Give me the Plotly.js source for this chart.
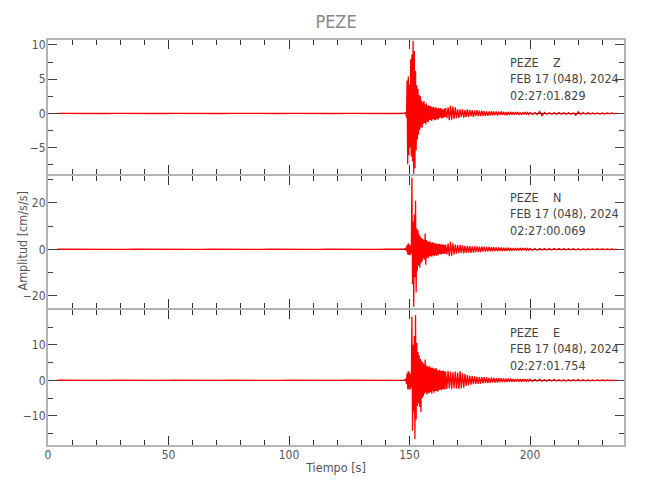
<!DOCTYPE html>
<html>
<head>
<meta charset="utf-8">
<script src="https://cdn.plot.ly/plotly-3.0.1.min.js"></script>
<style>html,body{margin:0;padding:0;background:#fff;}#chart{width:650px;height:500px;}</style>
</head>
<body>
<div id="chart"></div>
<script>
// ---- DATA ----
const stationName = 'PEZE';
const components = ['Z', 'N', 'E'];
const dateLabel = 'FEB 17 (048), 2024';
const startTimes = ['02:27:01.829', '02:27:00.069', '02:27:01.754'];
const xTitle = 'Tiempo [s]';
const yTitle = 'Amplitud [cm/s/s]';
const xTickVals = [0, 50, 100, 150, 200];

// sampling of each segment: [start time (s), step (s)]
const preSeg = [4, 4];
const aSeg = [148.5, 0.25];
const bSeg = [165, 0.5];
const cSeg = [200, 1];

// Z component
const zPre = [0.01,-0.01,0.01,-0.01,0.01,-0.01,0.01,-0.01,0.01,-0.01,0.01,-0.01,0.01,-0.01,0.01,-0.01,0.01,-0.01,0.01,-0.01,0.01,-0.01,0.01,-0.01,0.01,-0.01,0.01,-0.01,0.01,-0.01,0.01,-0.01,0.01,-0.01,0.01,-0.01,0.02];
const zA = [0.2,-0.6,4.8,-7.4,5.4,-6.1,4.2,-5.0,7.9,-6.3,
  8.6,-7.0,10.6,-8.8,9.1,-8.0,6.2,-5.4,4.1,-3.8,
  3.6,-3.1,2.7,-2.4,2.5,-2.0,1.9,-2.1,1.6,-1.5,
  1.8,-1.4,1.3,-1.6,1.5,-1.2,1.1,-1.3,1.2,-1.0,
  1.1,-0.9,1.0,-1.1,0.9,-0.8,1.0,-0.9,0.8,-1.0,
  0.9,-0.8,0.7,-0.9,0.8,-0.7,0.7,-0.6,0.8,-0.7,
  0.6,-0.7,0.6,-0.6,0.7,-0.5];
const zB = [0.8,-0.7,0.9,-1.0,1.1,-0.9,1.0,-0.8,0.9,-0.7,
  0.6,-0.7,0.6,-0.5,0.6,-0.6,0.5,-0.5,0.6,-0.5,
  0.5,-0.4,0.5,-0.5,0.4,-0.4,0.5,-0.4,0.4,-0.4,
  0.4,-0.35,0.35,-0.4,0.3,-0.35,0.3,-0.3,0.35,-0.3,
  0.3,-0.25,0.3,-0.3,0.25,-0.25,0.3,-0.2,0.25,-0.25,
  0.2,-0.25,0.2,-0.2,0.25,-0.2,0.2,-0.2,0.2,-0.15,
  0.2,-0.2,0.15,-0.2,0.15,-0.15,0.2,-0.15,0.15,-0.15];
const zC = [0.15,-0.15,0.12,-0.15,0.3,-0.35,0.15,-0.12,0.1,-0.12,
  0.1,-0.1,0.12,-0.1,0.1,-0.1,0.1,-0.12,0.1,-0.25,
  0.25,-0.1,0.1,-0.08,0.1,-0.08,0.08,-0.1,0.08,-0.08,
  0.08,-0.07,0.08,-0.06,0.07,-0.06,0.05];

// N component
const nPre = [0.02,-0.03,0.03,-0.02,0.03,-0.03,0.02,-0.03,0.03,-0.02,0.03,-0.03,0.02,-0.03,0.03,-0.02,0.03,-0.03,0.02,-0.03,0.03,-0.02,0.03,-0.03,0.02,-0.03,0.03,-0.02,0.03,-0.03,0.02,-0.03,0.03,-0.02,0.03,-0.03,0.05];
const nA = [0.5,-0.8,1.8,-2.2,2.6,-2.4,2.0,-2.6,1.5,-1.8,
  31.0,-15.0,12.0,-24.8,15.0,-12.0,20.9,-18.6,9.0,-9.5,
  8.2,-7.0,6.5,-8.0,5.5,-6.0,4.8,-5.2,4.5,-4.0,
  4.0,-4.5,6.8,-6.7,4.0,-3.6,3.5,-3.8,3.2,-3.0,
  3.5,-3.0,2.8,-3.2,3.0,-2.6,2.8,-3.0,2.5,-2.4,
  2.6,-2.8,2.2,-2.5,2.4,-2.0,2.3,-2.2,2.0,-2.1,
  2.2,-1.9,2.0,-2.0,1.8,-1.9];
const nB = [2.0,-2.2,2.5,-3.0,3.2,-2.8,2.6,-2.2,2.0,-1.9,
  1.8,-1.7,1.9,-1.6,1.7,-1.8,1.5,-1.6,1.5,-1.4,
  1.4,-1.5,1.3,-1.4,1.3,-1.2,1.3,-1.2,1.1,-1.2,
  1.1,-1.0,1.1,-1.0,1.0,-0.9,1.0,-0.9,0.9,-0.9,
  0.9,-0.8,0.8,-0.9,0.8,-0.7,0.8,-0.7,0.7,-0.7,
  0.7,-0.6,0.7,-0.6,0.6,-0.6,0.6,-0.5,0.6,-0.5,
  0.5,-0.5,0.5,-0.5,0.5,-0.4,0.5,-0.4,0.4,-0.4];
const nC = [0.4,-0.4,0.35,-0.4,0.35,-0.3,0.35,-0.3,0.3,-0.3,
  0.3,-0.25,0.3,-0.25,0.25,-0.25,0.25,-0.2,0.25,-0.2,
  0.2,-0.2,0.2,-0.18,0.2,-0.15,0.18,-0.15,0.15,-0.15,
  0.15,-0.12,0.15,-0.12,0.12,-0.1,0.1];

// E component
const ePre = [0.02,-0.02,0.03,-0.02,0.02,-0.03,0.02,-0.02,0.03,-0.02,0.02,-0.03,0.02,-0.02,0.03,-0.02,0.02,-0.03,0.02,-0.02,0.03,-0.02,0.02,-0.03,0.02,-0.02,0.03,-0.02,0.02,-0.03,0.02,-0.02,0.03,-0.02,0.02,-0.03,0.04];
const eA = [0.5,-1.0,2.0,-2.4,2.6,-2.5,2.2,-2.6,1.8,-2.0,
  18.0,-14.2,10.0,-9.0,12.5,-16.5,18.4,-11.0,10.5,-7.2,
  8.0,-6.5,7.0,-7.5,6.0,-9.0,5.5,-5.0,5.0,-4.5,
  4.5,-3.8,5.9,-3.4,4.2,-4.0,4.0,-3.5,3.8,-3.6,
  4.0,-3.2,3.5,-3.8,3.6,-3.0,3.4,-3.5,3.2,-3.0,
  3.5,-3.0,3.0,-3.2,2.8,-2.8,3.0,-2.6,2.7,-2.8,
  2.6,-2.5,2.8,-2.4,2.5,-2.6];
const eB = [2.5,-2.4,2.6,-2.3,2.4,-2.5,2.3,-2.2,2.5,-2.3,
  2.2,-2.4,2.6,-2.2,2.0,-2.1,1.8,-1.6,1.5,-1.4,
  1.3,-1.2,1.2,-1.1,1.1,-1.0,1.0,-1.0,0.9,-0.9,
  0.9,-0.8,0.9,-0.8,0.8,-0.8,0.7,-0.7,0.8,-0.6,
  0.7,-0.6,0.6,-0.6,0.6,-0.5,0.6,-0.5,0.5,-0.5,
  0.5,-0.45,0.5,-0.4,0.45,-0.4,0.4,-0.4,0.4,-0.35,
  0.4,-0.35,0.35,-0.35,0.35,-0.3,0.35,-0.3,0.3,-0.3];
const eC = [0.3,-0.3,0.28,-0.25,0.3,-0.25,0.25,-0.25,0.22,-0.2,
  0.22,-0.2,0.2,-0.2,0.2,-0.18,0.18,-0.18,0.18,-0.15,
  0.15,-0.15,0.15,-0.12,0.14,-0.12,0.12,-0.12,0.12,-0.1,
  0.1,-0.1,0.1,-0.08,0.08,-0.08,0.07];

// ---- BUILD ----
function buildTrace(pre, a, b, c) {
  const x = [], y = [];
  [[preSeg, pre], [aSeg, a], [bSeg, b], [cSeg, c]].forEach(([seg, vals]) => {
    vals.forEach((v, i) => { x.push(seg[0] + i * seg[1]); y.push(v); });
  });
  return {x, y};
}
const series = [buildTrace(zPre, zA, zB, zC), buildTrace(nPre, nA, nB, nC), buildTrace(ePre, eA, eB, eC)];

const FONT = '"DejaVu Sans Condensed", "Liberation Sans", sans-serif';
const axisNames = [['x3', 'y3'], ['x2', 'y2'], ['x', 'y']]; // Z top, N middle, E bottom
const traces = series.map((s, i) => ({
  type: 'scatter', mode: 'lines', x: s.x, y: s.y,
  xaxis: axisNames[i][0], yaxis: axisNames[i][1],
  line: {color: '#ff0000', width: 1.3}, hoverinfo: 'skip', showlegend: false
}));

const yRanges = [[-8.84, 10.72], [-25.3, 31.6], [-18.2, 19.8]];
const yDticks = [[5, 2.5], [20, 10], [10, 5]];
const domains = [[0.6691, 1], [0.3383, 0.6642], [0, 0.3333]];
const annTop = [0.968, 0.6346, 0.301];

const layout = {
  width: 650, height: 500,
  margin: {l: 48, r: 26, t: 40, b: 55},
  paper_bgcolor: '#fff', plot_bgcolor: '#fff',
  font: {family: FONT, color: '#555', size: 12},
  title: {text: stationName, font: {family: FONT, size: 18, color: '#888'}, x: 0.517, xanchor: 'center', y: 0.956, yanchor: 'middle'},
  annotations: [], showlegend: false
};

function xAxis(anchor, showLabels) {
  return {
    anchor: anchor, range: [0, 239], tickmode: 'array', tickvals: xTickVals,
    ticks: 'inside', ticklen: 9, tickwidth: 1, tickcolor: '#333',
    minor: {dtick: 10, tick0: 0, ticks: 'inside', ticklen: 5, tickwidth: 1, tickcolor: '#333', showgrid: false},
    showticklabels: showLabels, showgrid: false, zeroline: false,
    showline: true, linecolor: '#b4b4b4', linewidth: 2, mirror: 'ticks',
    tickfont: {family: FONT, size: 12, color: '#555'}, ticklabelstandoff: -2
  };
}
function yAxis(i, anchor) {
  return {
    anchor: anchor, domain: domains[i], range: yRanges[i],
    dtick: yDticks[i][0], tick0: 0,
    ticks: 'inside', ticklen: 9, tickwidth: 1, tickcolor: '#444',
    minor: {dtick: yDticks[i][1], tick0: 0, ticks: 'inside', ticklen: 5, tickwidth: 1, tickcolor: '#444', showgrid: false},
    showgrid: false, zeroline: true, zerolinecolor: '#000', zerolinewidth: 1,
    showline: true, linecolor: '#b4b4b4', linewidth: 2, mirror: 'ticks',
    tickfont: {family: FONT, size: 12, color: '#555'}, ticklabelstandoff: -2
  };
}
layout.xaxis = xAxis('y', true);
layout.xaxis.title = {text: xTitle, font: {family: FONT, size: 12.5, color: '#555'}, standoff: 2};
layout.xaxis2 = xAxis('y2', false);
layout.xaxis3 = xAxis('y3', false);
layout.yaxis3 = yAxis(0, 'x3');
layout.yaxis2 = yAxis(1, 'x2');
layout.yaxis = yAxis(2, 'x');

// y-axis title placed next to the tick labels
layout.annotations.push({
  xref: 'paper', yref: 'paper', x: -0.045, y: 0.505, xanchor: 'center', yanchor: 'middle',
  textangle: -90, showarrow: false, text: yTitle,
  font: {family: FONT, size: 12.5, color: '#555'}
});

components.forEach((c, i) => {
  layout.annotations.push({
    xref: 'paper', yref: 'paper', x: 0.7986, y: annTop[i], xanchor: 'left', yanchor: 'top', align: 'left',
    showarrow: false,
    text: stationName + '&nbsp;&nbsp;&nbsp;&nbsp;' + c + '<br>' + dateLabel + '<br>' + startTimes[i],
    font: {family: FONT, size: 12.5, color: '#444'}
  });
});

Plotly.newPlot('chart', traces, layout, {staticPlot: true, displayModeBar: false});
</script>
</body>
</html>
